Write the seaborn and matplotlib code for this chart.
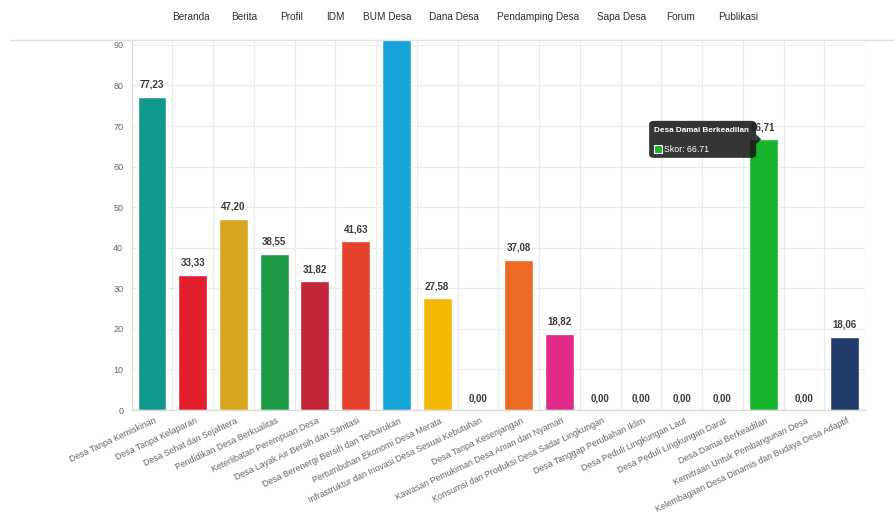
import matplotlib
matplotlib.use("Agg")
import matplotlib.pyplot as plt
import seaborn as sns
import numpy as np
from matplotlib import font_manager
from matplotlib.patches import FancyBboxPatch, Polygon, Rectangle
from matplotlib.lines import Line2D
import matplotlib.transforms as mtransforms

categories = [
    "Desa Tanpa Kemiskinan",
    "Desa Tanpa Kelaparan",
    "Desa Sehat dan Sejahtera",
    "Pendidikan Desa Berkualitas",
    "Keterlibatan Perempuan Desa",
    "Desa Layak Air Bersih dan Sanitasi",
    "Desa Berenergi Bersih dan Terbarukan",
    "Pertumbuhan Ekonomi Desa Merata",
    "Infrastruktur dan Inovasi Desa Sesuai Kebutuhan",
    "Desa Tanpa Kesenjangan",
    "Kawasan Pemukiman Desa Aman dan Nyaman",
    "Konsumsi dan Produksi Desa Sadar Lingkungan",
    "Desa Tanggap Perubahan Iklim",
    "Desa Peduli Lingkungan Laut",
    "Desa Peduli Lingkungan Darat",
    "Desa Damai Berkeadilan",
    "Kemitraan Untuk Pembangunan Desa",
    "Kelembagaan Desa Dinamis dan Budaya Desa Adaptif",
]
scores = [77.23, 33.33, 47.20, 38.55, 31.82, 41.63, 100.00, 27.58, 0.00,
          37.08, 18.82, 0.00, 0.00, 0.00, 0.00, 66.71, 0.00, 18.06]
colors = ["#12998d", "#e31f2d", "#d8a61f", "#1d9a44", "#c3263a", "#e6432c",
          "#17a5d9", "#f4b800", "#8b1a3a", "#ec6a24", "#df2a89", "#bf8b2e",
          "#3f7e44", "#0a97d9", "#56c02b", "#19b52e", "#19486a", "#213b6b"]
nav_items = ["Beranda", "Berita", "Profil", "IDM", "BUM Desa", "Dana Desa",
             "Pendamping Desa", "Sapa Desa", "Forum", "Publikasi"]
nav_x = [191, 244, 292, 335, 387, 454, 538, 622, 681, 738]
yticks = [0, 10, 20, 30, 40, 50, 60, 70, 80, 90]
tooltip_index = 15

names = {f.name for f in font_manager.fontManager.ttflist}
base_font = "Liberation Sans" if "Liberation Sans" in names else "DejaVu Sans"
nav_font = "Liberation Sans Narrow" if "Liberation Sans Narrow" in names else base_font

sns.set_theme(style="white")
plt.rcParams["font.family"] = [base_font, "DejaVu Sans"]

W, H = 895, 515
fig = plt.figure(figsize=(W / 100, H / 100), dpi=100)
fig.patch.set_facecolor("white")

left_px, right_px, bottom_px, top_px = 131.6, 865.0, 410.0, 40.0
ax = fig.add_axes([left_px / W, 1 - bottom_px / H,
                   (right_px - left_px) / W, (bottom_px - top_px) / H])

sns.barplot(x=categories, y=scores, hue=categories, palette=colors,
            legend=False, width=0.71, saturation=1, ax=ax, zorder=2)

ax.set_xlim(-0.5, len(categories) - 0.5)
ax.set_ylim(0, 91.2)
ax.set_xlabel("")
ax.set_ylabel("")

# grid
ax.set_yticks(yticks)
ax.set_yticklabels([str(t) for t in yticks], fontsize=6.5, color="#666666")
ax.set_xticks(np.arange(len(categories)))
ax.set_xticks(np.arange(len(categories) + 1) - 0.5, minor=True)
ax.grid(True, axis="y", color="#ebebeb", linewidth=0.8, zorder=0)
ax.grid(True, axis="x", which="minor", color="#ebebeb", linewidth=0.8, zorder=0)
ax.grid(False, axis="x", which="major")
ax.set_axisbelow(True)
ax.tick_params(axis="y", length=4.5, width=0.8, color="#e3e3e3", pad=1.5)
ax.tick_params(axis="x", which="major", length=0, pad=7.5)
ax.tick_params(axis="x", which="minor", length=4, width=0.8, color="#e3e3e3")
for s in ["top", "right"]:
    ax.spines[s].set_visible(False)
for s in ["left", "bottom"]:
    ax.spines[s].set_color("#d9d9d9")
    ax.spines[s].set_linewidth(0.9)

offset = mtransforms.ScaledTranslation(4 / 100, 0, fig.dpi_scale_trans)
ax.set_xticklabels(categories, rotation=25, ha="right", va="center",
                   rotation_mode="anchor", fontsize=6.35, color="#666666")
for lbl in ax.get_xticklabels():
    lbl.set_transform(lbl.get_transform() + offset)

# value labels
for i, v in enumerate(scores):
    ax.annotate(f"{v:.2f}".replace(".", ","), xy=(i, v), xytext=(0, 8.5),
                textcoords="offset points", ha="center", va="center",
                fontsize=7, fontweight="bold", color="#3a3a3a",
                annotation_clip=True, zorder=3)

# header / navigation
fig.add_artist(Line2D([10 / W, 1], [1 - 40 / H, 1 - 40 / H],
                      transform=fig.transFigure, color="#e2e2e2", linewidth=1.0))
for name, x in zip(nav_items, nav_x):
    fig.text(x / W, 1 - 17 / H, name, ha="center", va="center",
             fontsize=7.2, color="#2e2e2e", family=[nav_font, "DejaVu Sans"])

# tooltip anchored on the hovered bar
ti = tooltip_index
ax_x, ax_y = ax.transData.transform((ti, scores[ti]))
inv = fig.transFigure.inverted()
ax_fx, ax_fy = inv.transform((ax_x, ax_y))

def fpx(dx, dy):
    return (ax_fx + dx / W, ax_fy + dy / H)

bx0, bx1, by0, by1 = -114, -7, -18.5, 18.5
box = FancyBboxPatch(fpx(bx0, by0), (bx1 - bx0) / W, (by1 - by0) / H,
                     boxstyle="round,pad=0,rounding_size=0.006",
                     transform=fig.transFigure, facecolor="#141414",
                     edgecolor="none", alpha=0.86, zorder=10)
fig.add_artist(box)
caret = Polygon([fpx(bx1, -5), fpx(-2, 0), fpx(bx1, 5)], closed=True,
                transform=fig.transFigure, facecolor="#141414",
                edgecolor="none", alpha=0.86, zorder=10)
fig.add_artist(caret)
fx, fy = fpx(bx0 + 5, 9)
fig.text(fx, fy, categories[ti], ha="left", va="center", fontsize=5.9,
         fontweight="bold", color="white", zorder=11)
sq = Rectangle(fpx(bx0 + 5, -14), 8 / W, 8 / H, transform=fig.transFigure,
               facecolor=colors[ti], edgecolor="white", linewidth=0.8, zorder=11)
fig.add_artist(sq)
fx, fy = fpx(bx0 + 15, -10)
fig.text(fx, fy, f"Skor: {scores[ti]:.2f}", ha="left", va="center",
         fontsize=6.3, color="white", zorder=11)

fig.savefig("out.png", dpi=100, facecolor="white")
